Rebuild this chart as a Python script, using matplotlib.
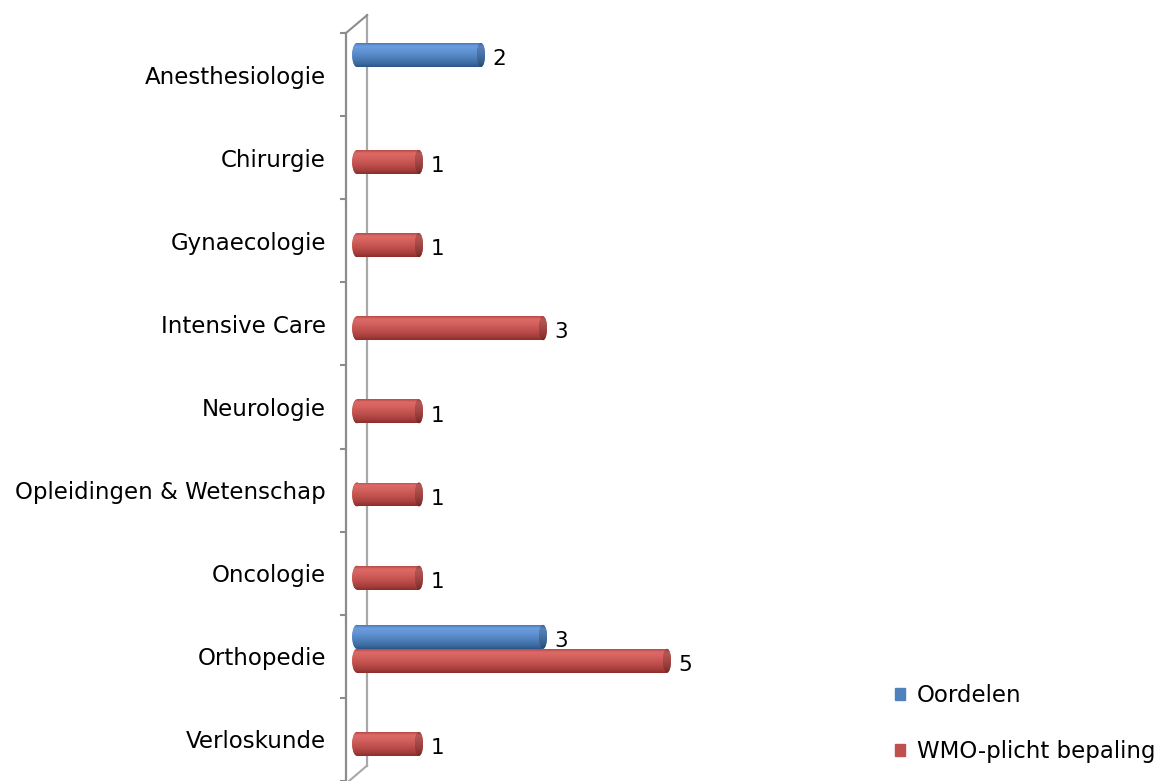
import numpy as np
import matplotlib
matplotlib.use("Agg")
import matplotlib.pyplot as plt
import matplotlib.patches as mpatches
from matplotlib.colors import to_rgb

categories = ["Anesthesiologie", "Chirurgie", "Gynaecologie", "Intensive Care",
              "Neurologie", "Opleidingen & Wetenschap", "Oncologie",
              "Orthopedie", "Verloskunde"]
oordelen = [2, 0, 0, 0, 0, 0, 0, 3, 0]
wmo_plicht = [0, 1, 1, 3, 1, 1, 1, 5, 1]
series_names = ["Oordelen", "WMO-plicht bepaling"]

# colours: (highlight, base, shadow, cap)
BLUE = ("#6c9de0", "#4f81bd", "#2c5688", "#3b679f")
RED = ("#de6a67", "#c0504d", "#8a2e2c", "#a23f3c")
AXIS_GREY = "#8c8c8c"
WALL_GREY = "#a8a8a8"
FONT = "DejaVu Sans"

W, H = 1163, 781
PX_X = 62.0      # pixels per value unit
PX_Y = 83.4      # pixels per category
ZERO_PX = 357
FRONT_PX = 346

fig = plt.figure(figsize=(W / 100, H / 100), dpi=100, facecolor="white")
ax = fig.add_axes([FRONT_PX / W, 0, 1 - FRONT_PX / W, 1 - 33 / H])
ax.set_facecolor("none")

x0 = (FRONT_PX - ZERO_PX) / PX_X
x1 = (W - ZERO_PX) / PX_X
y_bot = (H - 74.5) / PX_Y


def gradient(cols, n=48):
    hi, base, sh = [np.array(to_rgb(c)) for c in cols[:3]]
    stops = [(0.0, base * 0.85 + sh * 0.15), (0.12, hi), (0.35, hi * 0.6 + base * 0.4),
             (0.6, base), (0.85, base * 0.5 + sh * 0.5), (1.0, sh)]
    t = np.linspace(0, 1, n)
    arr = np.zeros((n, 1, 3))
    for k in range(3):
        arr[:, 0, k] = np.interp(t, [s[0] for s in stops], [s[1][k] for s in stops])
    return arr


def shaded(patch, cols, xa, xb, ya, yb, dark=1.0):
    ax.add_patch(patch)
    im = ax.imshow(np.clip(gradient(cols) * dark, 0, 1), extent=(xa, xb, yb, ya),
                   origin="upper", aspect="auto", interpolation="bilinear",
                   zorder=patch.get_zorder())
    im.set_clip_path(patch)


bar_h = 24 / PX_Y
offsets = [-0.235, 0.053]
cap_w = 8 / PX_X
y_pos = np.arange(len(categories))

for vals, off, cols in [(oordelen, offsets[0], BLUE), (wmo_plicht, offsets[1], RED)]:
    yc = y_pos + off
    bars = ax.barh(yc, vals, height=bar_h, color=cols[1], lw=0, zorder=3)
    for rect, v, y in zip(bars, vals, yc):
        if v == 0:
            rect.set_visible(False)
            continue
        ya, yb = y - bar_h / 2, y + bar_h / 2
        left = mpatches.Ellipse((0, y), cap_w * 1.2, bar_h, facecolor=cols[1],
                                lw=0, zorder=3)
        shaded(left, cols, -cap_w, cap_w, ya, yb)
        shaded(rect, cols, 0, v, ya, yb)
        cap = mpatches.Ellipse((v, y), cap_w, bar_h, facecolor=cols[3], lw=0, zorder=4)
        shaded(cap, cols, v - cap_w, v + cap_w, ya, yb, dark=0.82)
        ax.text(v + 0.19, y + 0.05, f"{v}", fontsize=15.5, family=FONT,
                ha="left", va="center", color="black", zorder=5)

# 3D wall lines
wall_x = (367 - ZERO_PX) / PX_X
ax.plot([wall_x, wall_x], [(15 - 74.5) / PX_Y, (768 - 74.5) / PX_Y],
        color=WALL_GREY, lw=1.6, zorder=1, clip_on=False)
ax.plot([x0, wall_x], [-0.5, (15 - 74.5) / PX_Y], color=AXIS_GREY, lw=1.5,
        zorder=2, clip_on=False)
ax.plot([wall_x, x0], [(768 - 74.5) / PX_Y, (786 - 74.5) / PX_Y],
        color=WALL_GREY, lw=1.5, zorder=1, clip_on=False)

ax.set_xlim(x0, x1)
ax.set_ylim(y_bot, -0.5)

for s in ["top", "right", "bottom"]:
    ax.spines[s].set_visible(False)
ax.spines["left"].set_color(AXIS_GREY)
ax.spines["left"].set_linewidth(1.6)
ax.set_xticks([])
ax.set_yticks(y_pos)
ax.set_yticklabels(categories, fontsize=16.5, family=FONT, color="black")
ax.tick_params(axis="y", which="major", length=0, pad=14.4)
ax.set_yticks(np.arange(-0.5, len(categories) + 0.5, 1), minor=True)
ax.tick_params(axis="y", which="minor", length=4.5, width=1.5, color=AXIS_GREY,
               direction="out")

handles = [mpatches.Patch(color=BLUE[1], label=series_names[0]),
           mpatches.Patch(color=RED[1], label=series_names[1])]
fig.legend(handles=handles, loc="upper left", bbox_to_anchor=(895 / W, 1 - 684 / H),
           frameon=False, prop={"family": FONT, "size": 16.5},
           handlelength=0.45, handleheight=0.45, handletextpad=0.5,
           labelspacing=1.45, borderpad=0, borderaxespad=0)

fig.savefig("out.png", dpi=100, facecolor="white")
